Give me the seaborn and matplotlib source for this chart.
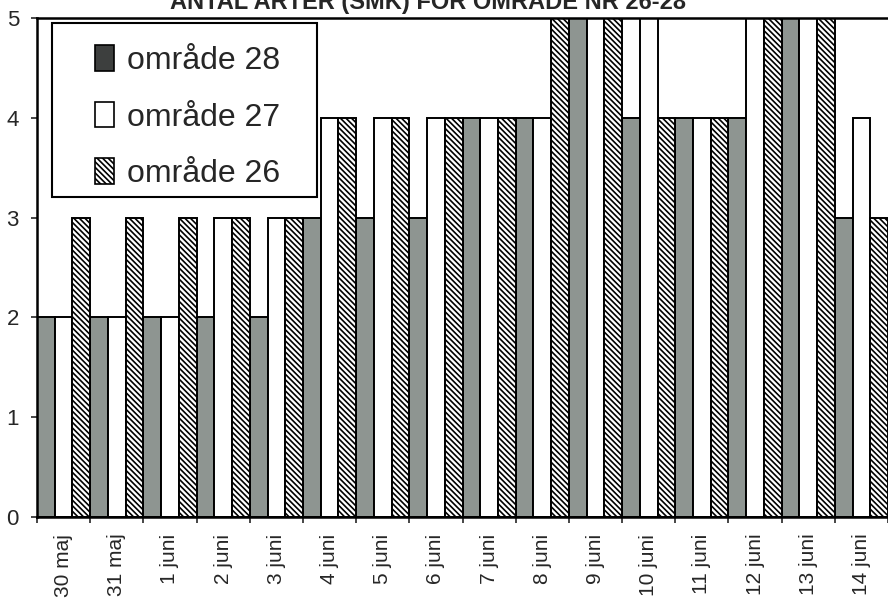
import numpy as np
import pandas as pd
import matplotlib
matplotlib.use('Agg')
import matplotlib.pyplot as plt
import seaborn as sns
from matplotlib.patches import Patch, Rectangle

# data
dagar = ['30 maj', '31 maj', '1 juni', '2 juni', '3 juni', '4 juni', '5 juni', '6 juni',
         '7 juni', '8 juni', '9 juni', '10 juni', '11 juni', '12 juni', '13 juni', '14 juni']
omrade28 = [2, 2, 2, 2, 2, 3, 3, 3, 4, 4, 5, 4, 4, 4, 5, 3]
omrade27 = [2, 2, 2, 3, 3, 4, 4, 4, 4, 4, 5, 5, 4, 5, 5, 4]
omrade26 = [3, 3, 3, 3, 3, 4, 4, 4, 4, 5, 5, 4, 4, 5, 5, 3]
serier = ['område 28', 'område 27', 'område 26']
y_ticks = [0, 1, 2, 3, 4, 5]
titel = 'ANTAL ARTER (SMK) FÖR OMRÅDE NR 26-28'

sns.set_style('ticks')
plt.rcParams['font.family'] = ['Liberation Sans', 'DejaVu Sans']
plt.rcParams['hatch.linewidth'] = 1.2
plt.rcParams['hatch.color'] = 'black'

df = pd.DataFrame({
    'dag': dagar * 3,
    'antal': omrade28 + omrade27 + omrade26,
    'område': [s for s in serier for _ in dagar],
})

fig = plt.figure(figsize=(8.88, 6.03), dpi=100)
ax = fig.add_axes([0.0417, 0.1426, 0.9583, 0.8275])

grå = '#8e9591'
sns.barplot(data=df, x='dag', y='antal', hue='område', hue_order=serier, order=dagar,
            palette=[grå, 'white', 'white'], saturation=1, width=1.0, dodge=True,
            edgecolor='black', linewidth=1.4, errorbar=None, legend=False, ax=ax)
for bar in ax.containers[2]:
    bar.set_hatch('\\\\\\\\\\\\')

ax.set_xlim(-0.5, 15.38)
ax.set_ylim(0, 5)
ax.set_xlabel('')
ax.set_ylabel('')

# tickmarkeringar mellan dagarna, etiketter mitt under
ax.set_xticks(np.arange(len(dagar) + 1) - 0.5, labels=[''] * (len(dagar) + 1))
ax.set_xticks(np.arange(len(dagar)), labels=dagar, minor=True)
ax.tick_params(axis='x', which='major', length=4, width=1.2, direction='out')
ax.tick_params(axis='x', which='minor', length=0, pad=12, labelsize=15, labelrotation=90)
ax.set_yticks(y_ticks)
ax.tick_params(axis='y', length=4, width=1.2, pad=9, labelsize=16)

for side in ['left', 'top', 'bottom']:
    ax.spines[side].set_visible(True)
    ax.spines[side].set_linewidth(1.8)
    ax.spines[side].set_color('black')
ax.spines['right'].set_visible(False)

# legend med egen ram
ax.add_patch(Rectangle((0.0176, 0.641), 0.3114, 0.349, transform=ax.transAxes,
                       facecolor='white', edgecolor='black', linewidth=1.5, zorder=4))
handles = [Patch(facecolor='#3d3f3e', edgecolor='black', linewidth=1.2),
           Patch(facecolor='white', edgecolor='black', linewidth=1.2),
           Patch(facecolor='white', edgecolor='black', linewidth=1.2, hatch='\\\\\\\\\\\\')]
leg = ax.legend(handles, serier, loc='upper left', bbox_to_anchor=(0.068, 0.945),
                frameon=False, fontsize=23, handlelength=0.6, handleheight=0.85,
                handletextpad=0.4, labelspacing=0.8, borderpad=0, borderaxespad=0)
leg.set_zorder(5)

fig.text(0.482, 0.985, titel, ha='center', va='baseline', fontsize=17, fontweight='bold')

fig.savefig('out.png', dpi=100)
